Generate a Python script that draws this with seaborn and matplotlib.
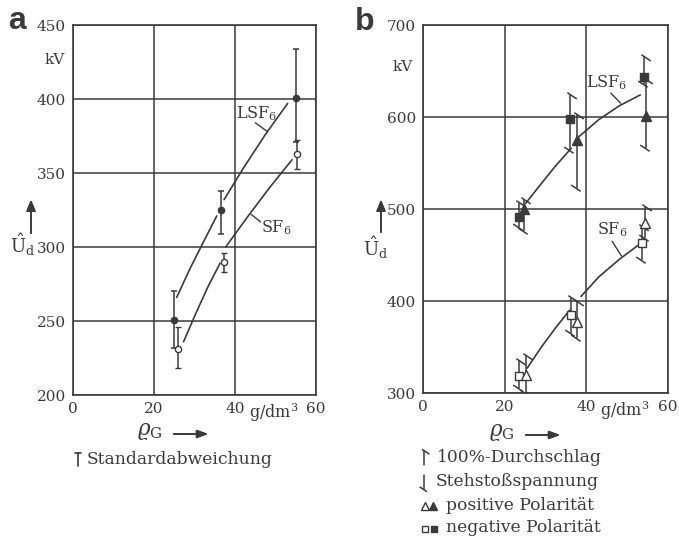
import numpy as np
import pandas as pd
import matplotlib.pyplot as plt
from matplotlib.lines import Line2D
from matplotlib.path import Path
import seaborn as sns

sns.set_theme(style="white")
INK = "#3a3a3a"
plt.rcParams.update({
    "font.family": ["DejaVu Serif"],
    "mathtext.fontset": "dejavuserif",
    "font.size": 11,
    "text.color": INK,
    "axes.edgecolor": INK,
    "axes.linewidth": 1.2,
})

# ── Panel a: mean breakdown voltage with standard deviation ─────────
a_lsf_x = [24.9, 36.5, 55.0]
a_lsf_y = [251, 325, 401]
a_lsf_lo = [232, 309, 371]
a_lsf_hi = [270, 338, 434]

a_sf_x = [26.0, 37.3, 55.4]
a_sf_y = [231, 290, 363]
a_sf_lo = [218, 283, 353]
a_sf_hi = [246, 296, 372]

# fitted curves (two pieces, broken at the middle point)
a_lsf_curve_x = [[25.6, 29.0, 32.5, 35.5], [37.3, 42.0, 47.5, 53.0]]
a_lsf_curve_y = [[266, 286, 305, 321], [332, 353, 376, 397]]
a_sf_curve_x = [[27.3, 30.3, 33.3, 36.3], [37.7, 43.0, 48.5, 54.1]]
a_sf_curve_y = [[236, 255, 273, 289], [300, 320, 340, 359]]

# ── Panel b: 100% breakdown / withstand voltage, both polarities ───
b_lsf_neg_x = [23.6, 36.1, 54.0]
b_lsf_neg_y = [491, 598, 643]
b_lsf_neg_hi = [507, 624, 665]
b_lsf_neg_lo = [480, 564, 636]

b_lsf_pos_x = [24.8, 37.7, 54.6]
b_lsf_pos_y = [500, 575, 601]
b_lsf_pos_hi = [510, 602, 640]
b_lsf_pos_lo = [476, 523, 566]

b_sf_neg_x = [23.5, 36.3, 53.7]
b_sf_neg_y = [318, 385, 463]
b_sf_neg_hi = [335, 403, 480]
b_sf_neg_lo = [305, 365, 445]

b_sf_pos_x = [25.2, 37.7, 54.4]
b_sf_pos_y = [320, 377, 485]
b_sf_pos_hi = [340, 399, 502]
b_sf_pos_lo = [300, 360, 468]

b_lsf_curve_x = [[25.1, 28.5, 32.5, 36.3], [38.3, 43.0, 48.0, 53.2]]
b_lsf_curve_y = [[506, 525, 547, 566], [579, 597, 612, 624]]
b_sf_curve_x = [[25.5, 29.0, 32.5, 35.9], [38.7, 43.0, 48.0, 52.8]]
b_sf_curve_y = [[327, 350, 371, 390], [405, 426, 445, 461]]

x_ticks = [0, 20, 40, 60]
a_y_ticks = [200, 250, 300, 350, 400, 450]
b_y_ticks = [300, 400, 500, 600, 700]

# slanted stroke used for the 100% / withstand ends
TICK_TOP = Path([(-0.5, 0.45), (1.0, -0.55)], [Path.MOVETO, Path.LINETO])
TICK_BOT = Path([(-1.0, 0.55), (0.5, -0.45)], [Path.MOVETO, Path.LINETO])


def draw_curve(ax, xs, ys):
    for cx, cy in zip(xs, ys):
        seg = pd.DataFrame({"x": cx, "y": cy})
        sns.lineplot(data=seg, x="x", y="y", ax=ax, sort=False,
                     color=INK, linewidth=1.2, zorder=3)


def style_axes(ax, xlim, ylim, yticks):
    ax.set_xlim(*xlim)
    ax.set_ylim(*ylim)
    ax.set_xticks(x_ticks)
    ax.set_yticks(yticks)
    ax.grid(True, color=INK, linewidth=1.1)
    ax.set_axisbelow(True)
    ax.tick_params(length=0, labelsize=11, colors=INK, pad=5)
    ax.set_xlabel("")
    ax.set_ylabel("")
    for s in ax.spines.values():
        s.set_visible(True)


def range_marks(ax, xs, lo, hi):
    ax.vlines(xs, lo, hi, color=INK, linewidth=1.1, zorder=4)
    ax.plot(xs, hi, linestyle="none", marker=TICK_TOP, markersize=9,
            markeredgewidth=1.1, color=INK, zorder=4)
    ax.plot(xs, lo, linestyle="none", marker=TICK_BOT, markersize=9,
            markeredgewidth=1.1, color=INK, zorder=4)


fig = plt.figure(figsize=(6.79, 5.40), dpi=100)
ax_a = fig.add_axes([0.1075, 0.2685, 0.3579, 0.6852])
ax_b = fig.add_axes([0.6230, 0.2722, 0.3608, 0.6815])

# ── panel a ──
draw_curve(ax_a, a_lsf_curve_x, a_lsf_curve_y)
draw_curve(ax_a, a_sf_curve_x, a_sf_curve_y)
yerr_l = [np.subtract(a_lsf_y, a_lsf_lo), np.subtract(a_lsf_hi, a_lsf_y)]
ax_a.errorbar(a_lsf_x, a_lsf_y, yerr=yerr_l, fmt="o", color=INK, ms=4.5,
              elinewidth=1.1, capsize=2.5, capthick=1.1, zorder=5)
yerr_s = [np.subtract(a_sf_y, a_sf_lo), np.subtract(a_sf_hi, a_sf_y)]
ax_a.errorbar(a_sf_x, a_sf_y, yerr=yerr_s, fmt="o", color=INK, ms=4.5,
              mfc="white", mew=1.0, elinewidth=1.1, capsize=2.5,
              capthick=1.1, zorder=5)
style_axes(ax_a, (0, 60), (200, 450), a_y_ticks)
ax_a.text(40.3, 390, "LSF$_6$", fontsize=11.5, va="center")
ax_a.plot([45.0, 48.0], [384, 378], color=INK, lw=1.0)
ax_a.text(46.5, 313, "SF$_6$", fontsize=11.5, va="center")
ax_a.plot([44.0, 46.3], [322, 317], color=INK, lw=1.0)

# ── panel b ──
draw_curve(ax_b, b_lsf_curve_x, b_lsf_curve_y)
draw_curve(ax_b, b_sf_curve_x, b_sf_curve_y)
for xs, lo, hi in [(b_lsf_neg_x, b_lsf_neg_lo, b_lsf_neg_hi),
                   (b_lsf_pos_x, b_lsf_pos_lo, b_lsf_pos_hi),
                   (b_sf_neg_x, b_sf_neg_lo, b_sf_neg_hi),
                   (b_sf_pos_x, b_sf_pos_lo, b_sf_pos_hi)]:
    range_marks(ax_b, xs, lo, hi)
ax_b.plot(b_lsf_neg_x, b_lsf_neg_y, "s", color=INK, ms=5.5, zorder=6)
ax_b.plot(b_lsf_pos_x, b_lsf_pos_y, "^", color=INK, ms=6.5, zorder=6)
ax_b.plot(b_sf_neg_x, b_sf_neg_y, "s", color=INK, mfc="white", mew=1.0,
          ms=5.5, zorder=6)
ax_b.plot(b_sf_pos_x, b_sf_pos_y, "^", color=INK, mfc="white", mew=1.0,
          ms=6.5, zorder=6)
style_axes(ax_b, (0, 59.5), (300, 700), b_y_ticks)
ax_b.text(39.8, 637, "LSF$_6$", fontsize=11.5, va="center")
ax_b.plot([46.0, 48.4], [626, 615], color=INK, lw=1.0)
ax_b.text(42.6, 478, "SF$_6$", fontsize=11.5, va="center")
ax_b.plot([46.3, 48.6], [465, 449], color=INK, lw=1.0)

# unit next to the 40 tick, kV labels
for ax in (ax_a, ax_b):
    ax.text(0.825, -0.016, "g/dm$^{3}$", transform=ax.transAxes,
            ha="center", va="top", fontsize=11.5)
ax_a.text(-0.033, 0.906, "kV", transform=ax_a.transAxes, ha="right",
          va="center", fontsize=11)
ax_b.text(-0.04, 0.887, "kV", transform=ax_b.transAxes, ha="right",
          va="center", fontsize=11)

# panel letters
fig.text(17 / 679, 1 - 21 / 540, "a", family="Liberation Sans",
         weight="bold", fontsize=23, ha="center", va="center", color=INK)
fig.text(365 / 679, 1 - 22 / 540, "b", family="Liberation Sans",
         weight="bold", fontsize=23, ha="center", va="center", color=INK)


def up_arrow(px, py0, py1):
    fig.add_artist(plt.annotate(
        "", xy=(px / 679, 1 - py1 / 540), xytext=(px / 679, 1 - py0 / 540),
        xycoords="figure fraction", textcoords="figure fraction",
        arrowprops=dict(arrowstyle="-|>,head_length=0.6,head_width=0.25",
                        color=INK, lw=1.2)))


def right_arrow(px0, px1, py):
    fig.add_artist(plt.annotate(
        "", xy=(px1 / 679, 1 - py / 540), xytext=(px0 / 679, 1 - py / 540),
        xycoords="figure fraction", textcoords="figure fraction",
        arrowprops=dict(arrowstyle="-|>,head_length=0.6,head_width=0.22",
                        color=INK, lw=1.2)))


# y-axis labels Û_d with arrow
fig.text(23 / 679, 1 - 245 / 540, r"$\hat{\mathrm{U}}_{\mathrm{d}}$",
         fontsize=13, ha="center", va="center")
up_arrow(31, 236, 197)
fig.text(376 / 679, 1 - 248 / 540, r"$\hat{\mathrm{U}}_{\mathrm{d}}$",
         fontsize=13, ha="center", va="center")
up_arrow(381, 235, 197)

# x-axis labels rho_G with arrow
fig.text(137 / 679, 1 - 431 / 540, r"$\varrho_{\mathrm{G}}$", fontsize=15.5,
         ha="left", va="center")
right_arrow(171, 211, 434)
fig.text(489 / 679, 1 - 432 / 540, r"$\varrho_{\mathrm{G}}$", fontsize=15.5,
         ha="left", va="center")
right_arrow(523, 563, 435)

# legend of panel a
fig.add_artist(Line2D([78 / 679, 78 / 679], [1 - 453 / 540, 1 - 466 / 540],
                      color=INK, lw=1.2))
fig.add_artist(Line2D([75 / 679, 81 / 679], [1 - 453 / 540, 1 - 453 / 540],
                      color=INK, lw=1.2))
fig.text(87 / 679, 1 - 460 / 540, "Standardabweichung", fontsize=12.3,
         va="center")

# legend of panel b
lx = 424 / 679
fig.add_artist(Line2D([lx, lx], [1 - 451 / 540, 1 - 465 / 540], color=INK,
                      lw=1.1))
fig.add_artist(Line2D([lx], [1 - 451 / 540], marker=TICK_TOP, ms=7,
                      mew=1.1, color=INK))
fig.text(437 / 679, 1 - 457 / 540, "100%-Durchschlag", fontsize=12.3,
         va="center")
fig.add_artist(Line2D([lx, lx], [1 - 475 / 540, 1 - 489 / 540], color=INK,
                      lw=1.1))
fig.add_artist(Line2D([lx], [1 - 489 / 540], marker=TICK_BOT, ms=7,
                      mew=1.1, color=INK))
fig.text(436 / 679, 1 - 481 / 540, "Stehstoßspannung", fontsize=12.3,
         va="center")
fig.add_artist(Line2D([425 / 679], [1 - 506 / 540], marker="^", ms=5.5,
                      mfc="white", mew=1.0, color=INK))
fig.add_artist(Line2D([433 / 679], [1 - 506 / 540], marker="^", ms=5.5,
                      color=INK))
fig.text(446 / 679, 1 - 505 / 540, "positive Polarität", fontsize=12.3,
         va="center")
fig.add_artist(Line2D([425 / 679], [1 - 529 / 540], marker="s", ms=4.5,
                      mfc="white", mew=1.0, color=INK))
fig.add_artist(Line2D([434 / 679], [1 - 529 / 540], marker="s", ms=4.5,
                      color=INK))
fig.text(446 / 679, 1 - 528 / 540, "negative Polarität", fontsize=12.3,
         va="center")

fig.savefig("out.png", dpi=100, facecolor="white")
